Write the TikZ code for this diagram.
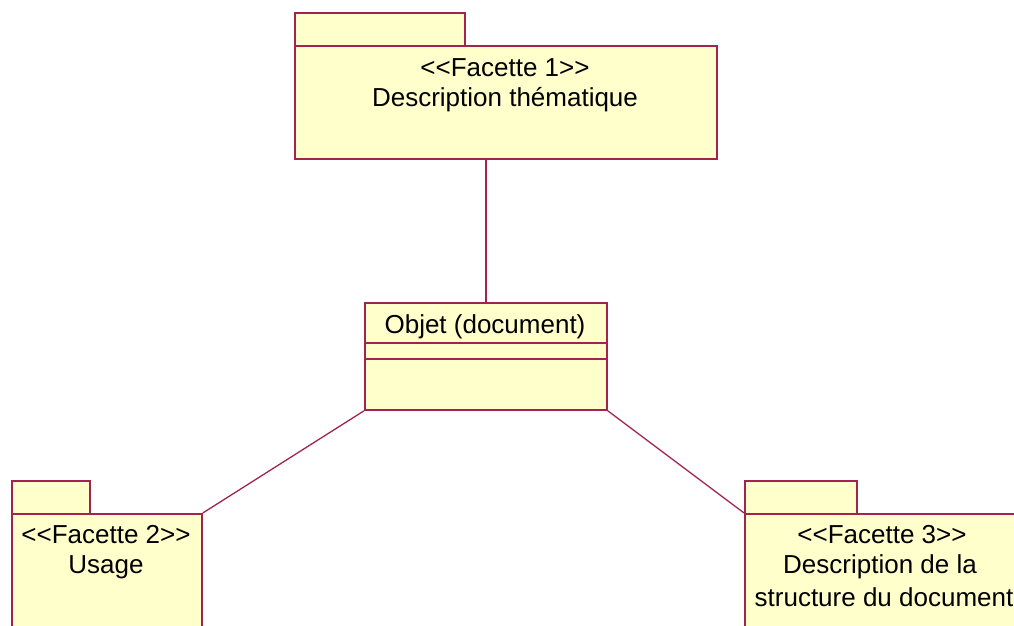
\documentclass[tikz,border=0pt]{standalone}
\usepackage{fontspec}
\setmainfont{Liberation Sans}
\definecolor{pkgfill}{HTML}{FFFFCC}
\definecolor{pkgline}{HTML}{A3234F}
\begin{document}
\begin{tikzpicture}[x=1pt,y=-1pt,
  box/.style={draw=pkgline,fill=pkgfill,line width=1.8pt,inner sep=0pt,anchor=north west},
  lbl/.style={font=\fontsize{26}{30}\selectfont,inner sep=0pt,anchor=base},
  conn/.style={draw=pkgline,line width=1.3pt}]
\useasboundingbox (0,0) rectangle (1014,626);
\clip (0,0) rectangle (1014,626);
% Package 1
\node[box,minimum width=170pt,minimum height=33pt] (p1tab) at (294,12) {};
\node[box,minimum width=422pt,minimum height=113pt] (p1) at (294,45) {};
\node[lbl] (p1a) at (505,76) {<{}<Facette 1>{}>};
\node[lbl] (p1b) at (505,106) {Description thématique};
% Class
\node[box,minimum width=242pt,minimum height=107pt] (cls) at (364,302) {};
\coordinate (c1) at (364,343);
\coordinate (c2) at (364,359);
\draw[pkgline,line width=1.8pt] (c1) -- (c1 -| cls.east);
\draw[pkgline,line width=1.8pt] (c2) -- (c2 -| cls.east);
\node[lbl] (clst) at (485,333) {Objet (document)};
% Package 2
\node[box,minimum width=78pt,minimum height=33pt] (p2tab) at (11,480) {};
\node[box,minimum width=190pt,minimum height=140pt] (p2) at (11,513) {};
\node[lbl] (p2a) at (106,543) {<{}<Facette 2>{}>};
\node[lbl] (p2b) at (106,573) {Usage};
% Package 3
\node[box,minimum width=112pt,minimum height=33pt] (p3tab) at (744,480) {};
\node[box,minimum width=272pt,minimum height=140pt] (p3) at (744,513) {};
\node[lbl] (p3a) at (882,543) {<{}<Facette 3>{}>};
\node[lbl] (p3b) at (880,573) {Description de la};
\node[lbl] (p3c) at (884,606) {structure du document};
% Connectors
\draw[conn] (p1.south -| cls.north) -- (cls.north);
\draw[conn] (cls.south west) -- (p2.north east);
\draw[conn] (cls.south east) -- (p3.north west);
\end{tikzpicture}
\end{document}
